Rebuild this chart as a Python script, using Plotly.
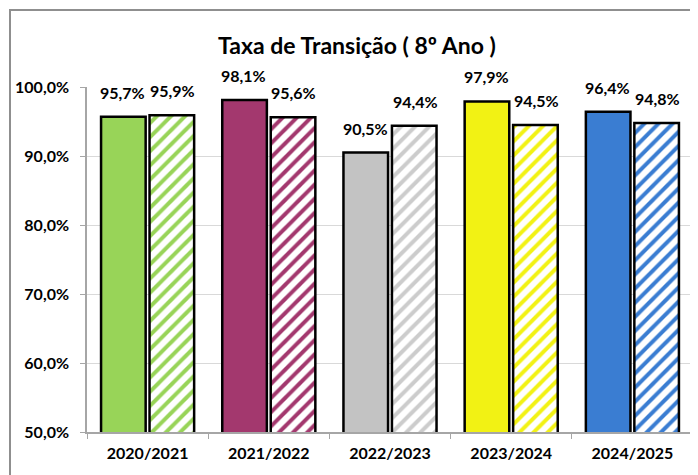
import plotly.graph_objects as go

categories = ["2020/2021", "2021/2022", "2022/2023", "2023/2024", "2024/2025"]
solid_values = [95.7, 98.1, 90.5, 97.9, 96.4]
hatched_values = [95.9, 95.6, 94.4, 94.5, 94.8]
solid_colors = ["#98D458", "#A3386E", "#C3C3C3", "#F2F214", "#3A7DD2"]
hatch_colors = ["#98D458", "#A3386E", "#CCCCCC", "#F2F214", "#3A7DD2"]
title_text = "Taxa de Transição ( 8º Ano )"
y_ticks = [50, 60, 70, 80, 90, 100]
y_tick_labels = ["50,0%", "60,0%", "70,0%", "80,0%", "90,0%", "100,0%"]

FONT = "Lato, Liberation Sans, sans-serif"

def fmt(v):
    return f"{v:.1f}".replace(".", ",") + "%"

W, H = 690, 467

fig = go.Figure()
fig.add_trace(go.Bar(
    x=categories, y=solid_values,
    marker=dict(color=solid_colors, line=dict(color="black", width=2.5)),
    showlegend=False, hoverinfo="skip",
))
fig.add_trace(go.Bar(
    x=categories, y=hatched_values,
    marker=dict(color="white", line=dict(color="black", width=2.5),
                pattern=dict(shape="/", fgcolor=hatch_colors, bgcolor="white",
                             size=10, solidity=0.4, fillmode="replace")),
    showlegend=False, hoverinfo="skip",
))

annotations = []
for c, v in zip(categories, solid_values):
    annotations.append(dict(x=c, y=v, xref="x", yref="y", text=fmt(v), showarrow=False,
                            xshift=-25, yshift=13, yanchor="bottom",
                            font=dict(family=FONT, size=16, color="black", weight="bold")))
for c, v in zip(categories, hatched_values):
    annotations.append(dict(x=c, y=v, xref="x", yref="y", text=fmt(v), showarrow=False,
                            xshift=25, yshift=13, yanchor="bottom",
                            font=dict(family=FONT, size=16, color="black", weight="bold")))

fig.update_layout(
    width=W, height=H,
    margin=dict(l=79, r=5, t=79, b=43),
    paper_bgcolor="white", plot_bgcolor="white",
    barmode="group", bargap=0.2, bargroupgap=0.08,
    title=dict(text="<b>" + title_text + "</b>", x=349 / W, xanchor="center",
               y=1 - 38 / H, yanchor="middle", yref="container",
               font=dict(family=FONT, size=23, color="black")),
    annotations=annotations,
    shapes=[dict(type="rect", xref="paper", yref="paper",
                 x0=-77 / 606, x1=1.05, y0=-0.3, y1=1 + 77 / 345,
                 line=dict(color="#8F8F8F", width=2), fillcolor="rgba(0,0,0,0)",
                 layer="below")],
)
fig.update_yaxes(
    range=[50, 100], tickvals=y_ticks, ticktext=y_tick_labels,
    showgrid=True, gridcolor="#D9D9D9", gridwidth=1,
    showline=True, linecolor="#A6A6A6", linewidth=1.5,
    ticks="outside", ticklen=5, tickcolor="#A6A6A6", ticklabelstandoff=8,
    tickfont=dict(family=FONT, size=16, color="black", weight="bold"),
    zeroline=False,
)
fig.update_xaxes(
    showline=True, linecolor="#A6A6A6", linewidth=1.5,
    ticks="outside", ticklen=5, tickcolor="#A6A6A6", tickson="boundaries",
    ticklabelstandoff=6,
    tickfont=dict(family=FONT, size=16, color="black", weight="bold"),
)

fig.write_html("out.html")
